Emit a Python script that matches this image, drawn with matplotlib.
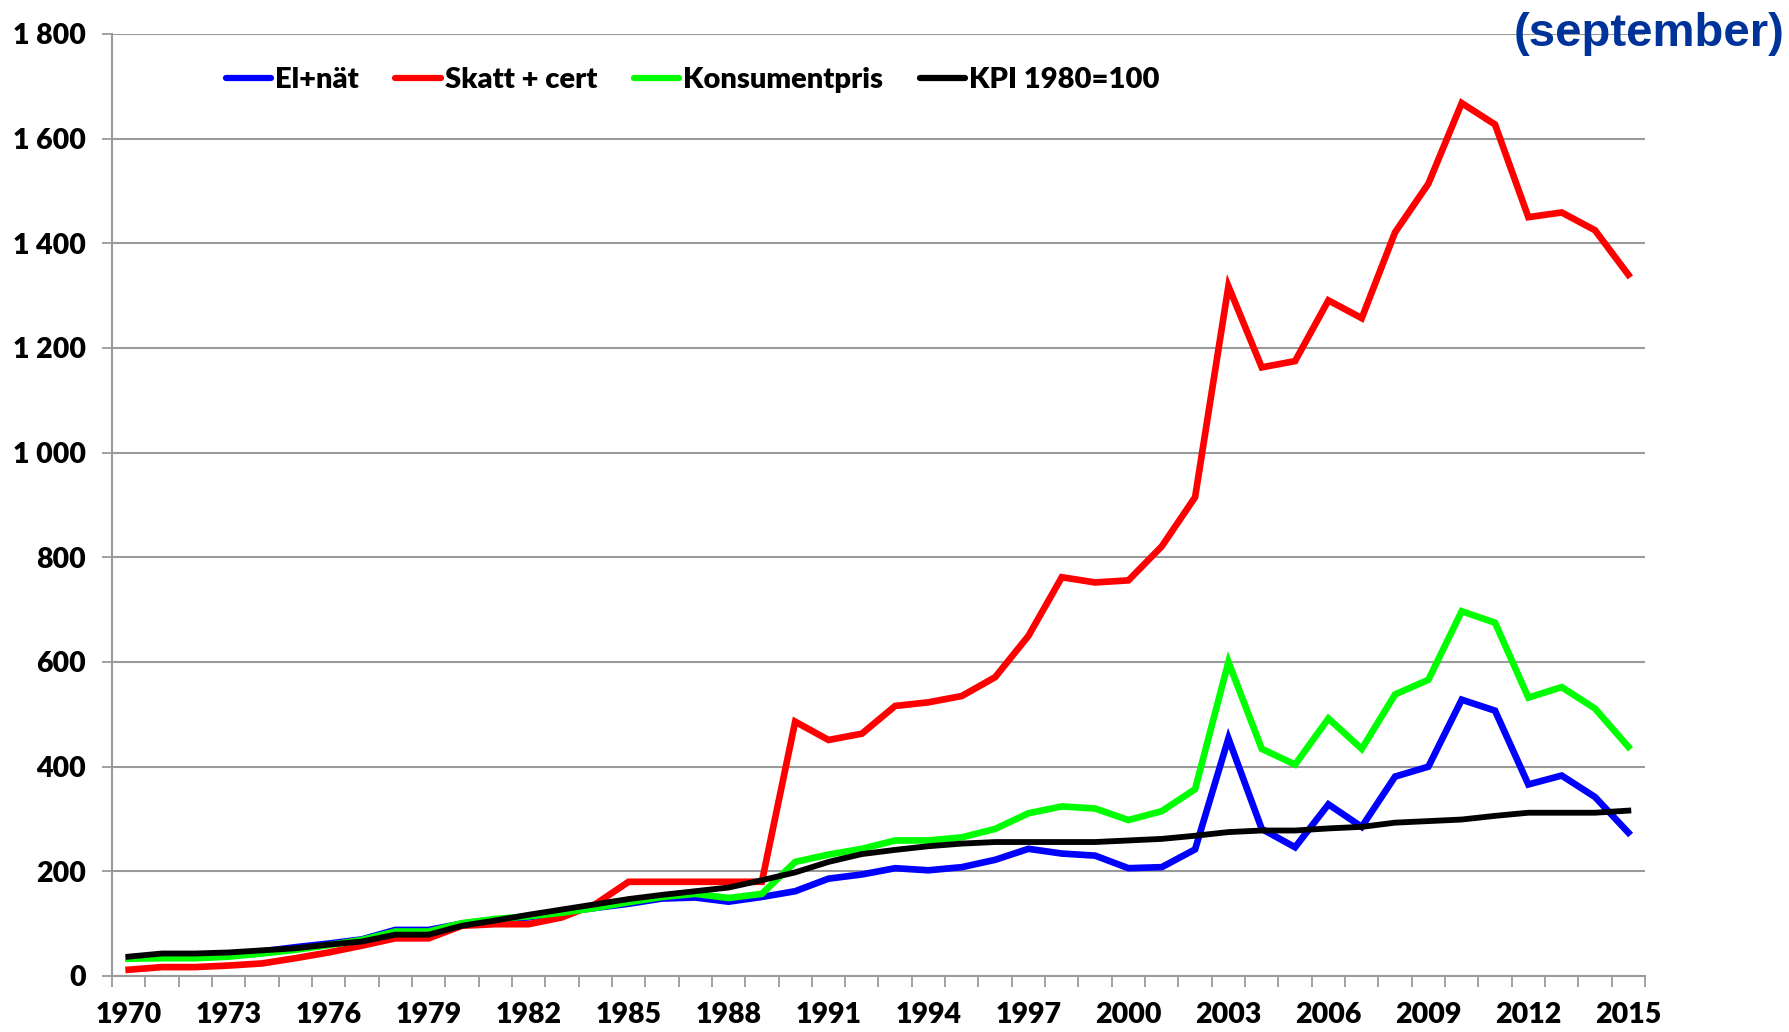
import matplotlib
matplotlib.use("Agg")
import matplotlib.pyplot as plt
import numpy as np

plt.rcParams['font.family'] = ['Lato', 'DejaVu Sans']

# ----------------- data -----------------
years = list(range(1970, 2016))

el_nat = [35, 37, 37, 40, 47, 55, 62, 70, 88, 88,
          100, 108, 112, 122, 130, 138, 148, 150, 142, 151,
          162, 186, 194, 206, 202, 208, 222, 243, 234, 230,
          206, 208, 242, 454, 281, 246, 328, 285, 381, 400,
          528, 507, 366, 383, 342, 274]

skatt_cert = [12, 17, 17, 20, 24, 34, 45, 58, 72, 72,
              96, 99, 99, 112, 137, 180, 180, 180, 180, 180,
              486, 451, 463, 516, 523, 535, 571, 650, 762, 752,
              756, 821, 915, 1318, 1163, 1175, 1291, 1257, 1421, 1514,
              1668, 1627, 1450, 1459, 1425, 1340]

konsumentpris = [33, 34, 34, 37, 43, 50, 59, 69, 85, 85,
                 101, 109, 114, 121, 130, 141, 151, 157, 149, 157,
                 218, 232, 243, 259, 259, 265, 281, 311, 324, 320,
                 298, 315, 357, 600, 434, 404, 492, 434, 538, 566,
                 697, 675, 532, 552, 511, 438]

kpi = [37, 43, 43, 45, 49, 53, 60, 66, 79, 79,
       96, 106, 117, 127, 137, 147, 155, 162, 169, 183,
       198, 218, 233, 241, 248, 253, 256, 256, 256, 256,
       259, 262, 268, 275, 278, 278, 282, 285, 293, 296,
       299, 306, 312, 312, 312, 316]

series_names = ["El+nät", "Skatt + cert", "Konsumentpris", "KPI 1980=100"]
series_colors = ["#0000FF", "#FF0000", "#00FF00", "#000000"]

yticks = list(range(0, 1801, 200))

# ----------------- plot -----------------
fig = plt.figure(figsize=(17.9, 10.32), dpi=100)
ax = fig.add_axes([112 / 1790, 56 / 1032, (1645 - 112) / 1790, (976 - 34) / 1032])

x = np.arange(len(years))
for vals, name, col in zip([el_nat, skatt_cert, konsumentpris, kpi], series_names, series_colors):
    lw = 4.2 if col == "#000000" else 4.8
    ax.plot(x, vals, color=col, lw=lw, label=name, solid_joinstyle='miter', zorder=3)

ax.set_xlim(-0.5, len(years) - 0.5)
ax.set_ylim(0, 1800)

grid_col = "#9a9a9a"
ax.set_yticks(yticks)
ax.set_yticklabels([f"{v:,}".replace(",", " ") for v in yticks])
ax.yaxis.grid(True, color=grid_col, lw=1.5, zorder=1)
ax.set_axisbelow(True)

ax.set_xticks(x[::3])
ax.set_xticklabels([str(y) for y in years[::3]])
ax.set_xticks(np.arange(-0.5, len(years)), minor=True)
ax.tick_params(axis='x', which='major', length=0, pad=19, labelsize=20.5)
ax.tick_params(axis='x', which='minor', length=8, width=1.3, color=grid_col, direction='out')
ax.tick_params(axis='y', length=7, width=1.3, color=grid_col, pad=12, labelsize=20.5)
for lab in ax.get_xticklabels() + ax.get_yticklabels():
    lab.set_fontweight('heavy')

for s in ['top', 'right']:
    ax.spines[s].set_visible(False)
for s in ['left', 'bottom']:
    ax.spines[s].set_color(grid_col)
    ax.spines[s].set_linewidth(1.5)

leg = fig.legend(loc='center left', bbox_to_anchor=(211 / 1790, 1 - 80 / 1032), ncol=4,
                 frameon=False, handlelength=1.55, handletextpad=0.15, columnspacing=1.25,
                 borderpad=0, prop={'weight': 'heavy', 'size': 21})
for h in leg.get_lines():
    h.set_linewidth(4.5)
    h.set_solid_capstyle('round')

fig.text(1785 / 1790, 1 - 34 / 1032, "(september)", color="#003399", fontsize=34,
         fontweight='bold', ha='right', va='center', family=['Liberation Sans', 'DejaVu Sans'])

fig.savefig("out.png", dpi=100)
